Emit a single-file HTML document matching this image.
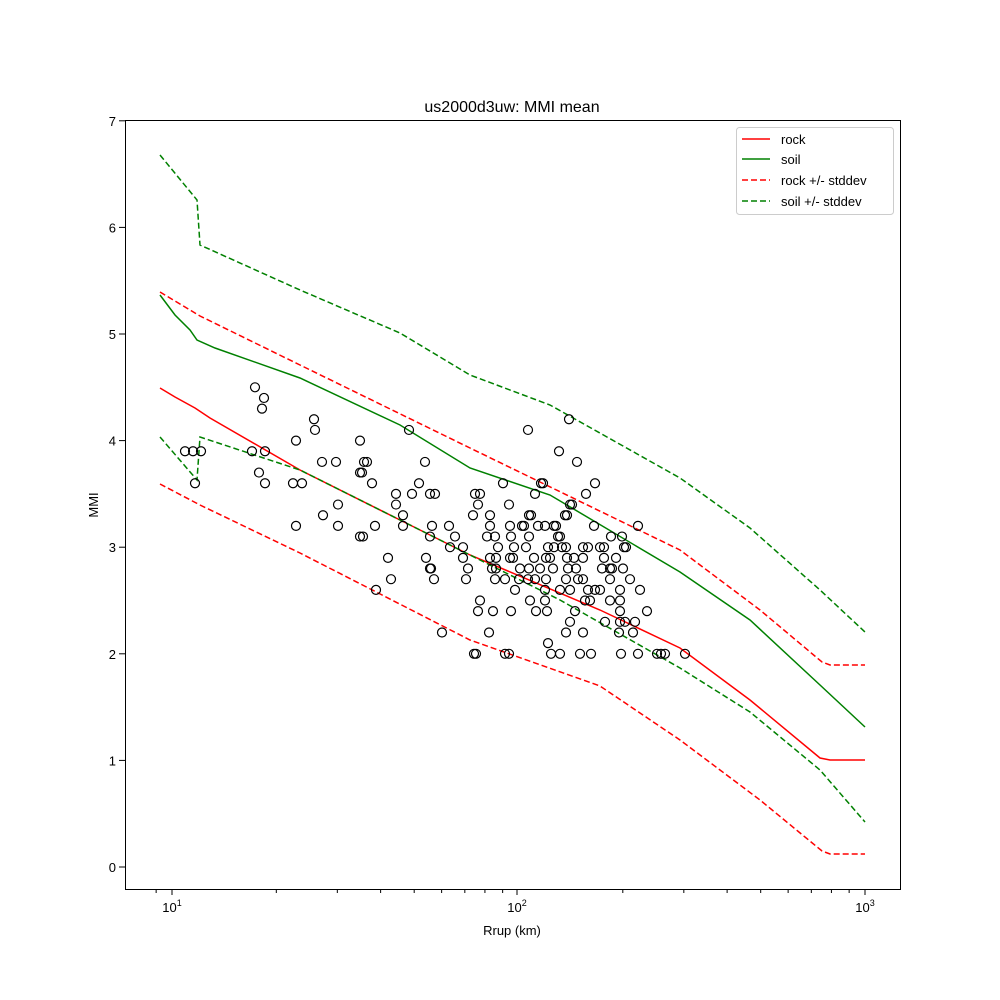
<!DOCTYPE html>
<html><head><meta charset="utf-8"><style>html,body{margin:0;padding:0;background:#fff}svg{display:block}</style></head>
<body>
<svg id="s" width="1000" height="1000" xmlns="http://www.w3.org/2000/svg" font-family="Liberation Sans, DejaVu Sans, sans-serif" font-size="13">
<rect width="1000" height="1000" fill="#fff"/>
<text x="512" y="112" text-anchor="middle" font-size="16">us2000d3uw: MMI mean</text>
<g fill="none" stroke-width="1.5">
<polyline stroke="#008000" stroke-dasharray="6,3" points="160,155 197,200 200,245 300,290 400,333 470,375 550,405 680,478 750,528 820,590 865,632"/>
<polyline stroke="#ff0000" stroke-dasharray="6,3" points="160,292 200,316 300,365 470,448 680,550 760,610 822,662 830,665 865,665"/>
<polyline stroke="#008000" points="160,295 175,315 190,330 197,340 215,348 300,378 400,425 470,468 550,495 680,572 750,620 820,685 865,727"/>
<polyline stroke="#ff0000" points="160,388 175,397 195,408 210,418 300,470 400,520 470,555 600,610 680,648 750,700 820,758 830,760 865,760"/>
<polyline stroke="#008000" stroke-dasharray="6,3" points="160,437 197,480 200,437 300,470 400,520 470,555 560,600 680,668 750,712 820,770 865,822"/>
<polyline stroke="#ff0000" stroke-dasharray="6,3" points="160,484 200,505 300,553 470,640 600,686 680,740 760,800 822,851 830,854 865,854"/>
</g>
<g id="pts" fill="none" stroke="#000" stroke-width="1.2"></g>
<rect x="125.5" y="120.5" width="775" height="769" fill="none" stroke="#000"/>
<g stroke="#000">
<line x1="172" y1="889" x2="172" y2="895"/><line x1="517" y1="889" x2="517" y2="895"/><line x1="865" y1="889" x2="865" y2="895"/>
</g>
<g id="minor" stroke="#000"></g>
<g font-size="13" text-anchor="middle">
<text x="172" y="912">10<tspan dy="-6" font-size="9">1</tspan></text>
<text x="517" y="912">10<tspan dy="-6" font-size="9">2</tspan></text>
<text x="865" y="912">10<tspan dy="-6" font-size="9">3</tspan></text>
<text x="512" y="935">Rrup (km)</text>
</g>
<g id="yt" font-size="13" text-anchor="end"></g>
<text transform="translate(98,505) rotate(-90)" text-anchor="middle">MMI</text>
<g>
<rect x="736.5" y="127.5" width="157" height="87" fill="#fff" stroke="#ccc" rx="3"/>
<line x1="742" y1="139" x2="770" y2="139" stroke="#ff0000" stroke-width="1.5"/>
<line x1="742" y1="159" x2="770" y2="159" stroke="#008000" stroke-width="1.5"/>
<line x1="742" y1="180" x2="770" y2="180" stroke="#ff0000" stroke-width="1.5" stroke-dasharray="6,3"/>
<line x1="742" y1="201" x2="770" y2="201" stroke="#008000" stroke-width="1.5" stroke-dasharray="6,3"/>
<text x="781" y="144">rock</text><text x="781" y="164">soil</text>
<text x="781" y="185">rock +/- stddev</text><text x="781" y="206">soil +/- stddev</text>
</g>
</svg>
<script>
var ns="http://www.w3.org/2000/svg";
var rows={4.5:[255],4.4:[264],4.3:[262],4.2:[314,569],4.1:[315,409,528],4.0:[296,360],
3.9:[185,193,201,252,265,559],3.8:[322,336,364,367,425,577],3.7:[259,360,362],
3.6:[195,265,293,302,372,419,503,541,543,595],3.5:[396,412,430,435,475,480,535,586],
3.4:[338,396,478,509,570,572],3.3:[323,403,473,490,529,531,565,567],
3.2:[296,338,375,403,432,449,490,510,522,524,538,545,554,556,594,638],
3.1:[360,363,430,455,487,495,511,529,558,560,611,622],
3.0:[450,463,498,514,526,548,554,562,566,583,588,600,604,624,626],
2.9:[388,426,463,490,496,510,513,534,546,550,567,574,583,604,616],
2.8:[430,431,468,492,496,520,529,540,553,568,576,602,610,612,623],
2.7:[391,434,466,495,505,519,528,535,546,566,578,583,610,630],
2.6:[376,515,545,560,570,588,595,600,620,640],2.5:[480,530,545,585,590,610,620],
2.4:[478,493,511,536,547,575,620,647],2.3:[570,605,620,625,635],
2.2:[442,489,566,583,619,633],2.1:[548],
2.0:[474,476,505,509,551,560,580,591,621,638,657,661,665,685]};
var g=document.getElementById("pts");
for(var k in rows){var y=867-106.6*parseFloat(k);rows[k].forEach(function(x){var c=document.createElementNS(ns,"circle");c.setAttribute("cx",x);c.setAttribute("cy",y);c.setAttribute("r",4.5);g.appendChild(c);});}
var yt=document.getElementById("yt"),sv=document.getElementById("s");
for(var v=0;v<=7;v++){var y=867-106.6*v;var l=document.createElementNS(ns,"line");l.setAttribute("x1",119);l.setAttribute("x2",125);l.setAttribute("y1",y);l.setAttribute("y2",y);l.setAttribute("stroke","#000");sv.appendChild(l);
var t=document.createElementNS(ns,"text");t.setAttribute("x",116);t.setAttribute("y",y+5);t.textContent=v;yt.appendChild(t);}
var mg=document.getElementById("minor");
for(var d=0;d<3;d++)for(var m=2;m<=9;m++){var r=Math.pow(10,d)*m;var x=172+346.5*Math.log10(r);if(x<126||x>899)continue;
var l=document.createElementNS(ns,"line");l.setAttribute("x1",x);l.setAttribute("x2",x);l.setAttribute("y1",889);l.setAttribute("y2",893);mg.appendChild(l);}
var x9=172+346.5*Math.log10(0.9);var l=document.createElementNS(ns,"line");l.setAttribute("x1",x9);l.setAttribute("x2",x9);l.setAttribute("y1",889);l.setAttribute("y2",893);mg.appendChild(l);
</script>
</body></html>
